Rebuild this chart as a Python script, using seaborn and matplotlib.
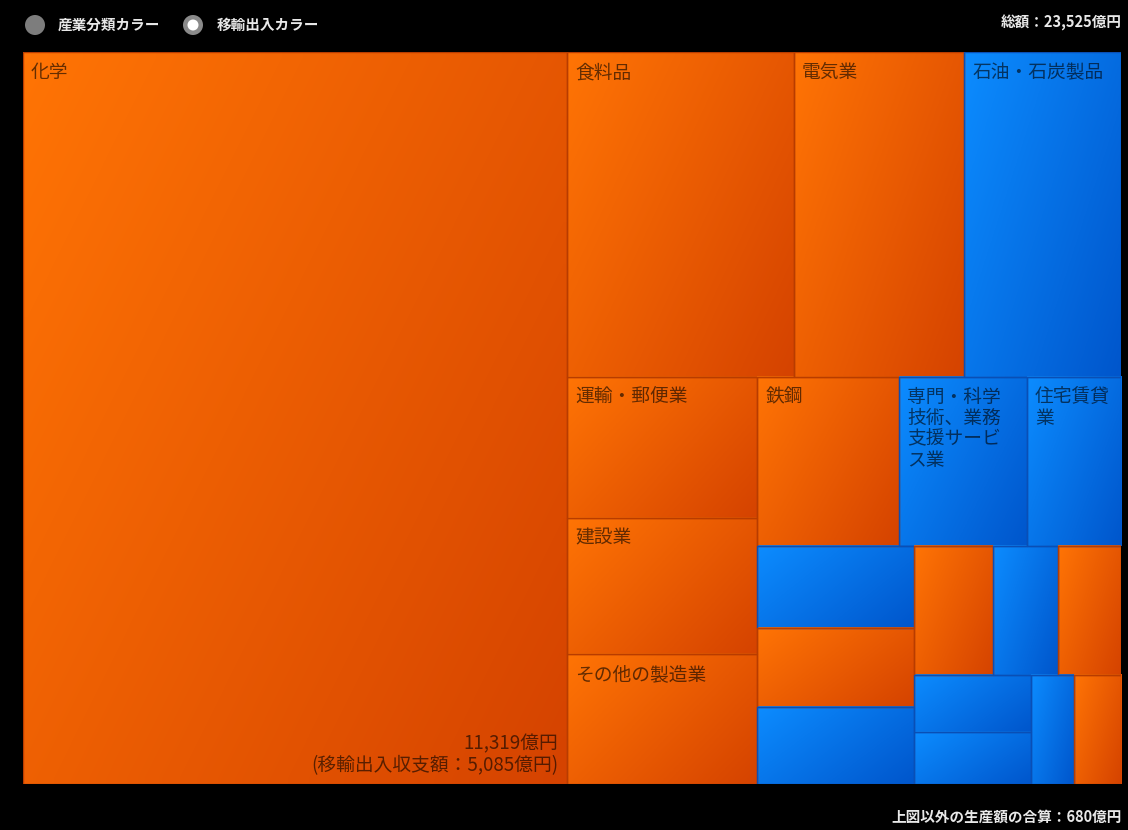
import numpy as np
import matplotlib
matplotlib.use("Agg")
import matplotlib.pyplot as plt
import seaborn as sns
from matplotlib.patches import Rectangle, Circle

# 産業別の生産額（億円）と移輸出入の向き
labels = ["化学", "食料品", "電気業", "石油・石炭製品",
          "運輸・郵便業", "建設業", "その他の製造業",
          "鉄鋼", "専門・科学\n技術、業務\n支援サービ\nス業", "住宅賃貸\n業",
          "", "", "", "", "", "", "", "", "", ""]
values = [11319, 2090, 1575, 1445,
          763, 736, 704,
          682, 615, 452,
          366, 353, 344, 290, 238, 231, 190, 173, 133, 146]
flow = ["out", "out", "out", "in",
        "out", "out", "out",
        "out", "in", "in",
        "in", "out", "in", "out", "in", "out", "in", "in", "in", "out"]
chem_balance = 5085
others_total = 680
legend_items = ["産業分類カラー", "移輸出入カラー"]

sns.set_theme(style="dark")
plt.rcParams['font.family'] = ['Noto Sans CJK JP', 'DejaVu Sans']

PHI = (1 + 5 ** 0.5) / 2


def squarify(vals, x0, y0, x1, y1, ratio=PHI):
    # d3.treemapSquarify と同じ手順
    rects = [None] * len(vals)
    n = len(vals)
    i0 = i1 = 0
    remain = float(sum(vals))
    while i0 < n:
        dx, dy = x1 - x0, y1 - y0
        s = vals[i1]
        i1 += 1
        vmin = vmax = s
        alpha = max(dy / dx, dx / dy) / (remain * ratio)
        beta = s * s * alpha
        min_ratio = max(vmax / beta, beta / vmin)
        while i1 < n:
            v = vals[i1]
            s2 = s + v
            beta = s2 * s2 * alpha
            new_ratio = max(max(vmax, v) / beta, beta / min(vmin, v))
            if new_ratio > min_ratio:
                break
            s = s2
            vmin, vmax = min(vmin, v), max(vmax, v)
            min_ratio = new_ratio
            i1 += 1
        if dx < dy:
            h = dy * s / remain
            xx = x0
            for i in range(i0, i1):
                w = dx * vals[i] / s
                rects[i] = (xx, y0, w, h)
                xx += w
            y0 += h
        else:
            w = dx * s / remain
            yy = y0
            for i in range(i0, i1):
                h = dy * vals[i] / s
                rects[i] = (x0, yy, w, h)
                yy += h
            x0 += w
        remain -= s
        i0 = i1
    return rects


fig = plt.figure(figsize=(11.28, 8.3), dpi=100, facecolor="black")

# ツリーマップ本体（単位はピクセル相当）
W, H = 1098, 732
ax = fig.add_axes([23 / 1128, 46 / 830, W / 1128, H / 830])
ax.set_facecolor("black")

cmaps = {"out": sns.blend_palette(["#ff7405", "#d54300"], as_cmap=True),
         "in": sns.blend_palette(["#0c8cff", "#0056cc"], as_cmap=True)}
edges = {"out": "#b83c00", "in": "#0a4fb5"}

gx, gy = np.meshgrid(np.linspace(0, 1, 64), np.linspace(0, 1, 64))
grad = (0.6 * gx + 0.4 * gy)

rects = squarify(values, 0, 0, W, H)
for (x, y, w, h), lab, f in zip(rects, labels, flow):
    ax.imshow(grad, cmap=cmaps[f], vmin=0, vmax=1, extent=(x, x + w, y + h, y),
              interpolation="bilinear", aspect="auto", zorder=1)
    ax.add_patch(Rectangle((x, y), w, h, fill=False, edgecolor=edges[f], lw=1, zorder=2))
    if lab:
        ax.text(x + 8, y + 10, lab, ha="left", va="top", fontsize=13.5,
                color="black", alpha=0.6, linespacing=1.0, zorder=3)

x, y, w, h = rects[0]
ax.text(x + w - 9, y + h - 8,
        f"{values[0]:,}億円\n(移輸出入収支額：{chem_balance:,}億円)",
        ha="right", va="bottom", fontsize=13.5, color="black", alpha=0.6,
        multialignment="right", linespacing=1.05, zorder=3)

ax.set_xlim(0, W)
ax.set_ylim(H, 0)
ax.set_axis_off()

# ヘッダー・フッター
ov = fig.add_axes([0, 0, 1, 1], facecolor="none")
ov.set_xlim(0, 1128)
ov.set_ylim(830, 0)
ov.set_axis_off()
ov.add_patch(Circle((35, 25), 10, facecolor="#7d7d7d", edgecolor="none"))
ov.text(58, 25, legend_items[0], ha="left", va="center", fontsize=10.5,
        color="#e8e8e8", fontweight="bold")
ov.add_patch(Circle((193, 25), 10, facecolor="#8a8a8a", edgecolor="none"))
ov.add_patch(Circle((193, 25), 5.5, facecolor="white", edgecolor="none"))
ov.text(217, 25, legend_items[1], ha="left", va="center", fontsize=10.5,
        color="#e8e8e8", fontweight="bold")

grand_total = sum(values) + others_total
ov.text(1122, 23, f"総額：{grand_total:,}億円", ha="right", va="center",
        fontsize=10.5, color="#e8e8e8", fontweight="bold")
ov.text(1122, 817, f"上図以外の生産額の合算：{others_total:,}億円", ha="right",
        va="center", fontsize=10.5, color="#e8e8e8", fontweight="bold")

fig.savefig("out.png", dpi=100, facecolor="black")
